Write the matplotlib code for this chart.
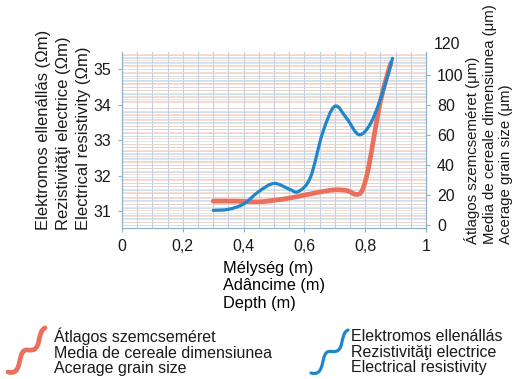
import numpy as np
import matplotlib
matplotlib.use("Agg")
import matplotlib.pyplot as plt
from matplotlib.path import Path
from matplotlib.patches import PathPatch
from matplotlib.ticker import MultipleLocator

# depth (m) vs electrical resistivity (Ohm m), left axis
blue_x = [0.30, 0.35, 0.40, 0.45, 0.50, 0.55, 0.58, 0.62, 0.66, 0.70, 0.74, 0.78, 0.82, 0.86, 0.89]
blue_y = [31.02, 31.05, 31.2, 31.55, 31.78, 31.62, 31.55, 31.95, 33.2, 33.95, 33.6, 33.15, 33.5, 34.4, 35.3]

# depth (m) vs average grain size (um), right axis
red_x = [0.30, 0.35, 0.40, 0.45, 0.50, 0.55, 0.60, 0.65, 0.70, 0.74, 0.77, 0.79, 0.81, 0.83, 0.85, 0.87, 0.885]
red_y = [16, 16, 15.8, 15.5, 16.5, 18, 20, 22, 23.5, 23, 20.5, 23, 37, 60, 82, 98, 108]

x_ticks = [0, 0.2, 0.4, 0.6, 0.8, 1]
x_labels = ["0", "0,2", "0,4", "0,6", "0,8", "1"]
left_ticks = [31, 32, 33, 34, 35]
right_ticks = [0, 20, 40, 60, 80, 100]

BLUE = "#1f86cc"
RED = "#ea6f5c"
GRID_B = "#b9d3e4"
GRID_R = "#f3cfc4"
SPINE = "#8fb2c9"
TXT = "#1a1a1a"

plt.rcParams["font.family"] = "Liberation Sans"
plt.rcParams["text.color"] = TXT
plt.rcParams["xtick.labelcolor"] = TXT
plt.rcParams["ytick.labelcolor"] = TXT


def smooth_path(xs, ys):
    # catmull-rom through the points, drawn as cubic bezier segments
    pts = np.column_stack([xs, ys]).astype(float)
    verts = [pts[0]]
    codes = [Path.MOVETO]
    n = len(pts)
    for i in range(n - 1):
        p0 = pts[max(i - 1, 0)]
        p1 = pts[i]
        p2 = pts[i + 1]
        p3 = pts[min(i + 2, n - 1)]
        c1 = p1 + (p2 - p0) / 6.0
        c2 = p2 - (p3 - p1) / 6.0
        verts += [c1, c2, p2]
        codes += [Path.CURVE4] * 3
    return Path(verts, codes)


fig = plt.figure(figsize=(5.15, 3.79), dpi=100)
ax = fig.add_axes([0.237, 0.398, 0.590, 0.465])
ax2 = ax.twinx()

ax.set_xlim(0, 1)
ax.set_ylim(30.52, 35.48)
ax2.set_ylim(-2, 115.3)

# dense grid, blue for the left scale, pink for the right one
ax.xaxis.set_minor_locator(MultipleLocator(0.05))
ax.yaxis.set_minor_locator(MultipleLocator(0.1))
ax2.yaxis.set_minor_locator(MultipleLocator(2))
ax.grid(which="both", axis="x", color=GRID_B, lw=0.8)
ax.grid(which="minor", axis="y", color=GRID_B, lw=0.5)
ax2.grid(which="minor", axis="y", color=GRID_R, lw=0.5)
ax.set_axisbelow(True)
ax2.set_axisbelow(True)

# both curves live on the top axes so no grid runs over them
ax2.add_patch(PathPatch(smooth_path(red_x, red_y), fc="none", ec=RED, lw=3.4,
                        capstyle="round", zorder=4))
ax2.add_patch(PathPatch(smooth_path(blue_x, blue_y), fc="none", ec=BLUE, lw=2.3,
                        capstyle="round", zorder=5, transform=ax.transData))

ax.set_xticks(x_ticks)
ax.set_xticklabels(x_labels)
ax.set_yticks(left_ticks)
ax2.set_yticks(right_ticks)
for a in (ax, ax2):
    for s in a.spines.values():
        s.set_color(SPINE)
    a.spines["top"].set_visible(False)
    a.tick_params(which="major", length=3, color=SPINE, labelsize=11.5, pad=5)
    a.tick_params(which="minor", length=0)
ax2.text(1.0 + 8 / (0.590 * 515), 120, "120", transform=ax2.get_yaxis_transform(),
         fontsize=11.5, ha="left", va="center", clip_on=False)

ax.set_xlabel("Mélység (m)\nAdâncime (m)\nDepth (m)", fontsize=11.8,
              multialignment="left", labelpad=5, linespacing=1.18)

fig.text(0.124, 0.393, "Elektromos ellenállás (Ωm)\nRezistivităţi electrice (Ωm)\nElectrical resistivity (Ωm)",
         rotation=90, fontsize=12, ha="center", va="bottom", multialignment="left",
         linespacing=1.42)
fig.text(0.949, 0.356, "Átlagos szemcseméret (μm)\nMedia de cereale dimensiunea (μm)\nAcerage grain size (μm)",
         rotation=90, fontsize=10.8, ha="center", va="bottom", multialignment="left",
         linespacing=1.25)

# legend: squiggles and text, laid out in pixel units
lg = fig.add_axes([0, 0, 1, 1], facecolor="none")
lg.set_xlim(0, 515)
lg.set_ylim(379, 0)
lg.axis("off")


def squiggle(x0, y0, x1, y1):
    dx = x1 - x0
    dy = y1 - y0
    verts = [(x0, y0), (x0 + 0.45 * dx, y0 - 0.1 * dy), (x0 + 0.2 * dx, y0 + 0.55 * dy),
             (x0 + 0.55 * dx, y0 + 0.5 * dy),
             (x0 + 0.95 * dx, y0 + 0.45 * dy), (x0 + 0.75 * dx, y0 + 0.9 * dy), (x1, y1)]
    codes = [Path.MOVETO] + [Path.CURVE4] * 6
    return Path(verts, codes)


lg.add_patch(PathPatch(squiggle(8, 372, 45, 328), fc="none", ec=RED, lw=3.4, capstyle="round"))
lg.add_patch(PathPatch(squiggle(311, 373, 348, 330), fc="none", ec=BLUE, lw=2.3, capstyle="round"))
lg.text(54, 352, "Átlagos szemcseméret\nMedia de cereale dimensiunea\nAcerage grain size",
        fontsize=11.5, ha="left", va="center", linespacing=1.05)
lg.text(351, 352, "Elektromos ellenállás\nRezistivităţi electrice\nElectrical resistivity",
        fontsize=11.5, ha="left", va="center", linespacing=1.05)

fig.savefig("out.png", dpi=100)
